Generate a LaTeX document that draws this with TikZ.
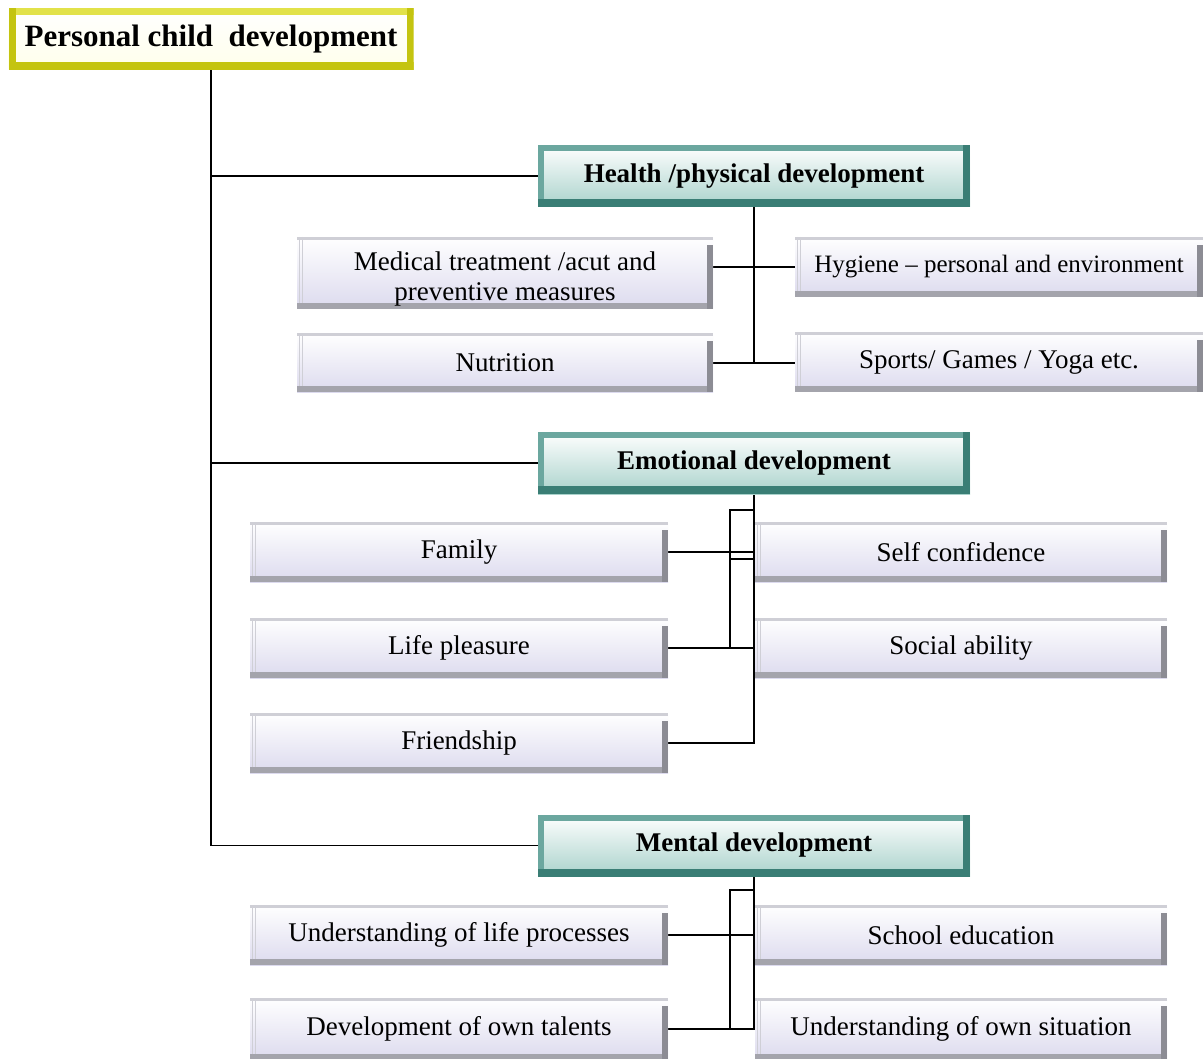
\documentclass[tikz,border=0pt]{standalone}
\usepackage{fontspec}
\setmainfont{Liberation Serif}
\usetikzlibrary{backgrounds}
\definecolor{lav}{HTML}{DCDAEE}
\definecolor{bevR}{HTML}{8C8C94}
\definecolor{bevB}{HTML}{A4A4AC}
\definecolor{bevT}{HTML}{CFCFD6}
\definecolor{tealD}{HTML}{3A7E75}
\definecolor{tealM}{HTML}{6BA79F}
\definecolor{tealL}{HTML}{A9D2CB}
\definecolor{yelD}{HTML}{C4C410}
\definecolor{yelL}{HTML}{E2E24A}
\begin{document}
\begin{tikzpicture}[x=1pt,y=-1pt,
  box/.style={inner sep=0pt, align=center, anchor=center,
    font=\fontsize{27}{30}\selectfont},
  sub/.style={box, minimum height=60pt, top color=white, bottom color=lav,
    path picture={
      \fill[bevT] (path picture bounding box.north west) rectangle ([yshift=-3pt]path picture bounding box.north east);
      \draw[bevT,line width=0.8pt] ([xshift=2pt]path picture bounding box.north west) -- ([xshift=2pt]path picture bounding box.south west);
      \draw[bevT,line width=0.8pt] ([xshift=5pt]path picture bounding box.north west) -- ([xshift=5pt]path picture bounding box.south west);
      \fill[bevB] ([yshift=6pt]path picture bounding box.south west) rectangle (path picture bounding box.south east);
      \fill[bevR] ([xshift=-6pt,yshift=-8pt]path picture bounding box.north east) rectangle (path picture bounding box.south east);
    }},
  leftbox/.style={sub, minimum width=418pt},
  rightbox/.style={sub, minimum width=412pt},
  main/.style={box, minimum width=432pt, minimum height=62pt, font=\fontsize{27}{30}\selectfont\bfseries,
    top color=white, bottom color=tealL,
    path picture={
      \fill[tealM] (path picture bounding box.north west) rectangle ([yshift=-6pt]path picture bounding box.north east);
      \fill[tealM] (path picture bounding box.north west) rectangle ([xshift=6pt]path picture bounding box.south west);
      \fill[tealD] ([yshift=8pt]path picture bounding box.south west) rectangle (path picture bounding box.south east);
      \fill[tealD] ([xshift=-7pt]path picture bounding box.north east) rectangle (path picture bounding box.south east);
    }},
  rootbox/.style={box, minimum width=405pt, minimum height=62pt, font=\fontsize{31}{34}\selectfont\bfseries,
    top color=white, bottom color=yellow!8,
    path picture={
      \fill[yelL] (path picture bounding box.north west) rectangle ([yshift=-7pt]path picture bounding box.north east);
      \fill[yelD] (path picture bounding box.north west) rectangle ([xshift=7pt]path picture bounding box.south west);
      \fill[yelD] ([yshift=8pt]path picture bounding box.south west) rectangle (path picture bounding box.south east);
      \fill[yelD] ([xshift=-7pt]path picture bounding box.north east) rectangle (path picture bounding box.south east);
    }},
  conn/.style={draw=black, line width=1.3pt}
]
\useasboundingbox (0,0) rectangle (1203,1059);

% top level
\node[rootbox] (root) at (211,39) {Personal child \ development};

% main branches
\node[main] (hea) at (754,176) {Health /physical development};
\node[main] (emo) at (754,463) {Emotional development};
\node[main] (ment) at (754,845.5) {Mental development};

% health / physical
\node[sub, minimum width=416pt, minimum height=72pt] (med) at (505,273)
  {\rule{0pt}{31pt}Medical treatment /acut and\\preventive measures};
\node[sub, minimum width=416pt, minimum height=59pt] (nut) at (505,363) {Nutrition};
\node[sub, minimum width=408pt, font=\fontsize{25}{28}\selectfont] (hyg) at (999,267) {Hygiene -- personal and environment};
\node[sub, minimum width=408pt] (spo) at (999,362) {Sports/ Games / Yoga etc.};

% emotional
\node[leftbox] (fam) at (459,552) {Family};
\node[leftbox] (lp) at (459,648) {Life pleasure};
\node[leftbox] (fri) at (459,743) {Friendship};
\node[rightbox] (sc) at (961,552) {Self confidence};
\node[rightbox] (sa) at (961,648) {Social ability};

% mental
\node[leftbox] (ulp) at (459,935) {Understanding of life processes};
\node[leftbox, minimum height=62pt] (dev) at (459,1029) {Development of own talents};
\node[rightbox] (se) at (961,935) {School education};
\node[rightbox, minimum height=62pt] (uos) at (961,1029) {Understanding of own situation};

\coordinate (ej) at (730,510);
\coordinate (mj) at (730,890);

\begin{scope}[on background layer]
  \fill[white] (0,0) rectangle (1203,1059);
  % trunk and branches
  \draw[conn] (root.south) |- (ment.west);
  \draw[conn] (root.south |- hea.west) -- (hea.west);
  \draw[conn] (root.south |- emo.west) -- (emo.west);
  % health
  \draw[conn] (hea.south) -- (hea.south |- nut.east);
  \draw[conn] (med.east |- hyg.west) -- (hyg.west);
  \draw[conn] (nut.east) -- (nut.east -| spo.west);
  % emotional
  \draw[conn] (emo.south) -- (emo.south |- fri.east) -- (fri.east);
  \draw[conn] (fam.east) -- (fam.east -| sc.west);
  \draw[conn] (lp.east) -- (lp.east -| sa.west);
  \draw[conn] (emo.south |- ej) -- (ej) -- (ej |- lp.east);
  \draw[conn] ([yshift=-7pt]ej |- sc.west) -- ([yshift=-7pt]sc.west);
  % mental
  \draw[conn] (ment.south) -- (ment.south |- dev.east) -- (dev.east);
  \draw[conn] (ment.south |- mj) -- (mj) -- (mj |- dev.east);
  \draw[conn] (ulp.east) -- (ulp.east -| se.west);
\end{scope}
\end{tikzpicture}
\end{document}
